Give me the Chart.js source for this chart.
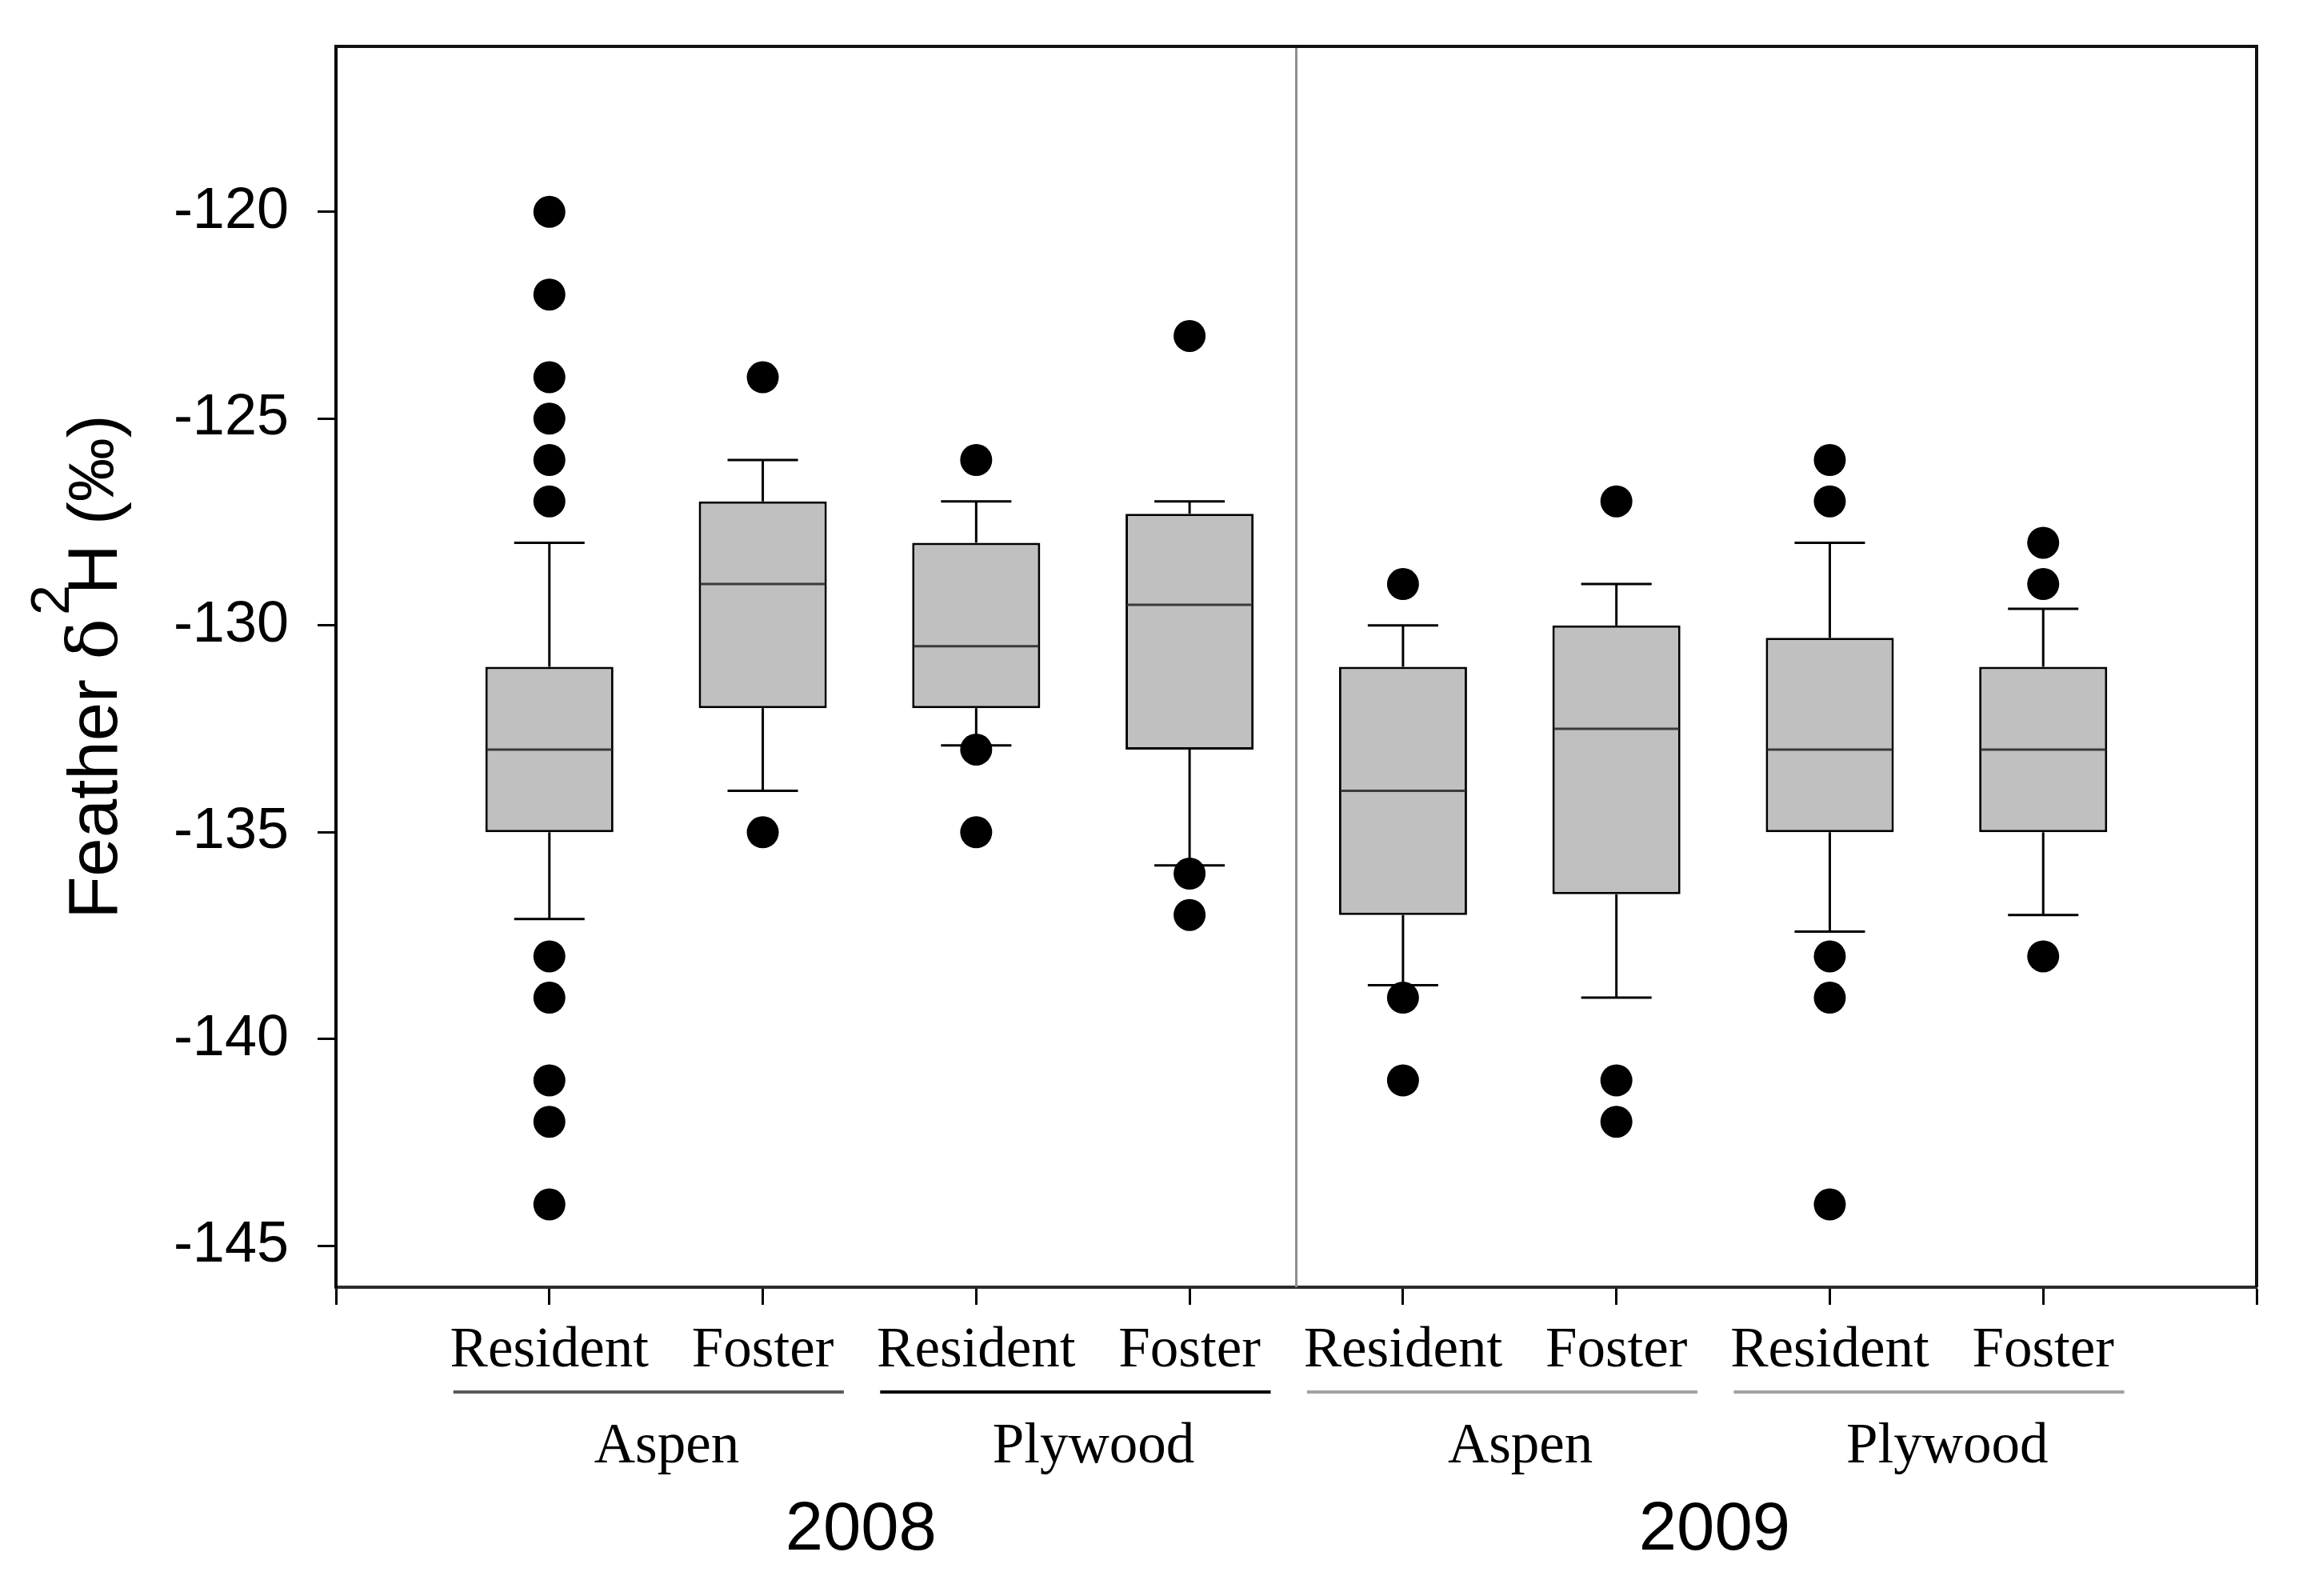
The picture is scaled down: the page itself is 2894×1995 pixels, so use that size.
<!DOCTYPE html>
<html>
<head>
<meta charset="utf-8">
<script src="https://cdn.jsdelivr.net/npm/chart.js@4.4.1/dist/chart.umd.min.js"></script>
<style>
  html, body { margin: 0; padding: 0; background: #fff; }
  #wrap { width: 2894px; height: 1995px; }
</style>
</head>
<body>
<div id="wrap"><canvas id="featherChart"></canvas></div>
<script>
// x groups, left to right
const subgroupLabels = ['Resident', 'Foster', 'Resident', 'Foster', 'Resident', 'Foster', 'Resident', 'Foster'];
const materialLabels = ['Aspen', 'Plywood', 'Aspen', 'Plywood'];
const yearLabels = ['2008', '2009'];
const yTicks = [-145, -140, -135, -130, -125, -120];

// box stats per group
const whiskerLow = [-137.1, -134, -132.9, -135.8, -138.7, -139, -137.4, -137];
const q1 = [-135, -132, -132, -133, -137, -136.5, -135, -135];
const median = [-133, -129, -130.5, -129.5, -134, -132.5, -133, -133];
const q3 = [-131, -127, -128, -127.3, -131, -130, -130.3, -131];
const whiskerHigh = [-128, -126, -127, -127, -130, -129, -128, -129.6];

// outlying points per group
const outliers = [
  [-120, -122, -124, -125, -126, -127, -138, -139, -141, -142, -144],
  [-124, -135],
  [-126, -133, -135],
  [-123, -136, -137],
  [-129, -139, -141],
  [-127, -141, -142],
  [-126, -127, -138, -139, -144],
  [-128, -129, -138]
];

const boxData = q1.map((v, i) => ({ x: i + 1, y: [v, q3[i]] }));
const pointData = [];
outliers.forEach((list, i) => list.forEach(v => pointData.push({ x: i + 1, y: v })));

function line(ctx, x1, y1, x2, y2) {
  ctx.beginPath();
  ctx.moveTo(x1, y1);
  ctx.lineTo(x2, y2);
  ctx.stroke();
}

const boxExtras = {
  id: 'boxExtras',
  beforeDatasetsDraw(chart) {
    const { ctx, chartArea: a, scales: { x, y } } = chart;
    ctx.save();
    // divider between the two years
    ctx.strokeStyle = '#8f8f8f';
    ctx.lineWidth = 3;
    const xd = x.getPixelForValue(4.5);
    line(ctx, xd, a.top, xd, a.bottom);

    // whiskers + caps
    ctx.strokeStyle = '#000';
    ctx.lineWidth = 3;
    q1.forEach((v, i) => {
      const cx = x.getPixelForValue(i + 1);
      const half = x.getPixelForValue(i + 1 + 0.165) - cx;
      const yLo = y.getPixelForValue(whiskerLow[i]);
      const yHi = y.getPixelForValue(whiskerHigh[i]);
      line(ctx, cx, y.getPixelForValue(v), cx, yLo);
      line(ctx, cx, y.getPixelForValue(q3[i]), cx, yHi);
      line(ctx, cx - half, yLo, cx + half, yLo);
      line(ctx, cx - half, yHi, cx + half, yHi);
    });
    ctx.restore();
  },
  afterDatasetsDraw(chart) {
    const { ctx, scales: { y } } = chart;
    const meta = chart.getDatasetMeta(0);
    ctx.save();
    ctx.strokeStyle = '#3a3a3a';
    ctx.lineWidth = 3;
    median.forEach((m, i) => {
      const bar = meta.data[i];
      const ym = y.getPixelForValue(m);
      line(ctx, bar.x - bar.width / 2 + 2, ym, bar.x + bar.width / 2 - 2, ym);
    });
    ctx.restore();
  },
  afterDraw(chart) {
    const { ctx, chartArea: a, scales: { x } } = chart;
    ctx.save();
    // top and right frame
    ctx.strokeStyle = '#111';
    ctx.lineWidth = 4;
    ctx.beginPath();
    ctx.moveTo(a.left, a.top);
    ctx.lineTo(a.right, a.top);
    ctx.lineTo(a.right, a.bottom);
    ctx.stroke();

    // underlines + material labels
    const underColors = ['#5a5a5a', '#000', '#a3a3a3', '#a3a3a3'];
    ctx.textAlign = 'center';
    ctx.textBaseline = 'alphabetic';
    ctx.fillStyle = '#000';
    materialLabels.forEach((lab, k) => {
      const g = 2 * k + 1;
      ctx.strokeStyle = underColors[k];
      ctx.lineWidth = 4;
      line(ctx, x.getPixelForValue(g - 0.45), a.bottom + 131, x.getPixelForValue(g + 1.38), a.bottom + 131);
      ctx.font = '71px "Liberation Serif", "Times New Roman", serif';
      ctx.fillText(lab, x.getPixelForValue(g + 0.55), a.bottom + 219);
    });

    // years
    ctx.font = '85px "Liberation Sans", Arial, sans-serif';
    yearLabels.forEach((lab, k) => {
      ctx.fillText(lab, x.getPixelForValue(4 * k + 2.46), a.bottom + 328);
    });

    // y title: Feather δ²H (‰)
    const sans = '"Liberation Sans", Arial, sans-serif';
    const parts = [
      { t: 'Feather ', f: '87px ' + sans, dy: 0, adv: 0 },
      { t: '\u03b4', f: '86px "DejaVu Serif", "Liberation Serif", serif', dy: 0, adv: 4 },
      { t: '2', f: '68px ' + sans, dy: -60, adv: -12 },
      { t: 'H ', f: '87px ' + sans, dy: 0, adv: 0 },
      { t: '(', f: '87px ' + sans, dy: 0, adv: 0 },
      { t: '\u2030', f: '80px ' + sans, dy: -4, adv: 0 },
      { t: ')', f: '87px ' + sans, dy: 0, adv: 0 }
    ];
    let total = 0;
    parts.forEach(p => { ctx.font = p.f; p.w = ctx.measureText(p.t).width + p.adv; total += p.w; });
    ctx.translate(146, (a.top + a.bottom) / 2);
    ctx.rotate(-Math.PI / 2);
    ctx.textAlign = 'left';
    let pos = -total / 2;
    parts.forEach(p => {
      ctx.font = p.f;
      ctx.fillText(p.t, pos, p.dy);
      pos += p.w;
    });
    ctx.restore();
  }
};

new Chart(document.getElementById('featherChart'), {
  type: 'bar',
  data: {
    datasets: [
      {
        type: 'bar',
        data: boxData,
        backgroundColor: '#c0c0c0',
        borderColor: '#000',
        borderWidth: 3,
        borderSkipped: false,
        barPercentage: 0.75,
        categoryPercentage: 0.8
      },
      {
        type: 'scatter',
        data: pointData,
        backgroundColor: '#000',
        borderWidth: 0,
        pointRadius: 20,
        pointHoverRadius: 20
      }
    ]
  },
  options: {
    responsive: true,
    maintainAspectRatio: false,
    devicePixelRatio: 1,
    animation: false,
    events: [],
    layout: { padding: { top: 58, right: 73, left: 0, bottom: 0 } },
    plugins: { legend: { display: false }, tooltip: { enabled: false } },
    scales: {
      x: {
        type: 'linear',
        min: 0,
        max: 9,
        offset: false,
        afterBuildTicks: s => { s.ticks = [0, 1, 2, 3, 4, 5, 6, 7, 8, 9].map(v => ({ value: v })); },
        afterFit: s => { s.height = 386; s.paddingLeft = 0; s.paddingRight = 0; },
        border: { display: true, color: '#2b2b2b', width: 4 },
        grid: { drawOnChartArea: false, drawTicks: true, tickLength: 22, tickWidth: 3, tickColor: '#000', offset: false },
        ticks: {
          autoSkip: false,
          maxRotation: 0,
          padding: 16,
          color: '#000',
          font: { family: '"Liberation Serif", "Times New Roman", serif', size: 71 },
          callback: v => subgroupLabels[v - 1] || ''
        }
      },
      y: {
        min: -146,
        max: -116,
        beginAtZero: false,
        afterBuildTicks: s => { s.ticks = yTicks.map(v => ({ value: v })); },
        afterFit: s => { s.width = 420; s.paddingTop = 0; s.paddingBottom = 0; },
        border: { display: true, color: '#000', width: 4 },
        grid: { drawOnChartArea: false, drawTicks: true, tickLength: 23, tickWidth: 3, tickColor: '#000' },
        ticks: {
          padding: 36,
          color: '#000',
          font: { family: '"Liberation Sans", Arial, sans-serif', size: 72 },
          callback: v => String(v)
        }
      }
    }
  },
  plugins: [boxExtras]
});
</script>
</body>
</html>
